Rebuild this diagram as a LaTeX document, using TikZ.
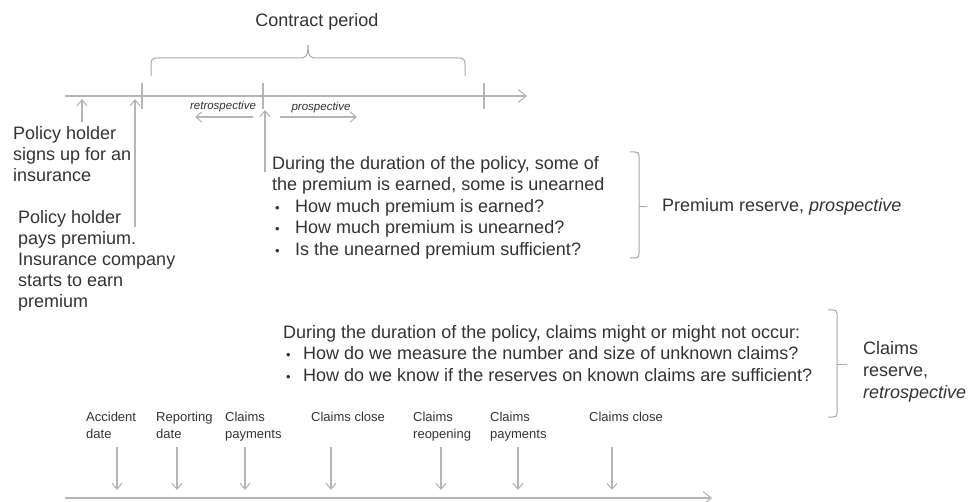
\documentclass[tikz,border=0pt]{standalone}
\usepackage{fontspec}
\setmainfont{Liberation Sans}
\usetikzlibrary{arrows.meta}
\definecolor{linegray}{HTML}{B5B5B5}
\definecolor{bracegray}{HTML}{A8A8A8}
\definecolor{textgray}{HTML}{333333}
\begin{document}
\begin{tikzpicture}[x=1pt,y=-1pt,
  axis/.style={draw=linegray, line width=1.1pt},
  bigarr/.style={axis, -{Straight Barb[length=8pt,width=13pt]}},
  arr/.style={axis, -{Straight Barb[length=6pt,width=10pt]}},
  tick/.style={axis},
  brk/.style={draw=bracegray, line width=1pt},
  txt/.style={text=textgray, inner sep=0pt, font=\fontsize{18}{21}\selectfont, align=left, anchor=north west},
  body/.style={text=textgray, inner sep=0pt, font=\fontsize{18}{21.5}\selectfont, align=left, anchor=north west},
  lbl/.style={text=textgray, inner sep=0pt, font=\fontsize{13}{17}\selectfont, align=left, anchor=north west},
  tiny/.style={text=textgray, inner sep=0pt, font=\fontsize{11.5}{12}\selectfont\itshape},
]
\useasboundingbox (0,0) rectangle (969,502);

% ---------- top timeline ----------
\coordinate (t0) at (65,96);
\coordinate (t1) at (527,96);
\draw[bigarr] (t0) -- (t1);
\coordinate (k1a) at (142,83); \coordinate (k1b) at (142,109);
\coordinate (k2a) at (263,83); \coordinate (k2b) at (263,109);
\coordinate (k3a) at (484,83); \coordinate (k3b) at (484,109);
\draw[tick] (k1a) -- (k1b);
\draw[tick] (k2a) -- (k2b);
\draw[tick] (k3a) -- (k3b);

% contract brace
\node[text=textgray, inner sep=0pt, font=\fontsize{18}{21}\selectfont] (cp) at (317,22) {Contract period};
\draw[brk] (151,76) -- (151,64) .. controls (151,59) and (153,58) .. (158,58) -- (300,58)
  .. controls (306,58) and (308,56) .. (308,45)
  .. controls (308,56) and (310,58) .. (316,58) -- (458,58)
  .. controls (463,58) and (465,59) .. (465,64) -- (465,76);

% retro / prospective
\node[tiny] (retro) at (223,107) {retrospective};
\node[tiny] (pro) at (321,108) {prospective};
\coordinate (ra) at (253,117); \coordinate (rb) at (195,117);
\coordinate (pa) at (280,117); \coordinate (pb) at (357,117);
\draw[arr] (ra) -- (rb);
\draw[arr] (pa) -- (pb);

% up arrows
\coordinate (u1a) at (82,122);  \coordinate (u1b) at (82,99);
\coordinate (u2a) at (135,227); \coordinate (u2b) at (135,99);
\coordinate (u3a) at (265,172); \coordinate (u3b) at (265,110);
\draw[arr] (u1a) -- (u1b);
\draw[arr] (u2a) -- (u2b);
\draw[arr] (u3a) -- (u3b);

% left texts
\node[txt] (signs) at (13,126) {Policy holder\\signs up for an\\insurance};
\node[txt] (pays) at (18,210) {Policy holder\\pays premium.\\Insurance company\\starts to earn\\premium};

% premium block
\node[body] (prem) at (272,156) {During the duration of the policy, some of\\
the premium is earned, some is unearned\\
\makebox[23pt][l]{\hspace{3pt}{\fontsize{13}{13}\selectfont •}}How much premium is earned?\\
\makebox[23pt][l]{\hspace{3pt}{\fontsize{13}{13}\selectfont •}}How much premium is unearned?\\
\makebox[23pt][l]{\hspace{3pt}{\fontsize{13}{13}\selectfont •}}Is the unearned premium sufficient?};
\draw[brk] (630,152) -- (635,152) .. controls (638,152) and (639,153) .. (639,156) -- (639,254)
  .. controls (639,257) and (638,258) .. (635,258) -- (630,258);
\draw[brk] (639,207) -- (647,207);
\node[text=textgray, inner sep=0pt, font=\fontsize{18}{21}\selectfont, anchor=west] (premres) at (662,207) {Premium reserve, \textit{prospective}};

% claims block
\node[body] (claims) at (283,325) {During the duration of the policy, claims might or might not occur:\\
\makebox[20pt][l]{\hspace{3pt}{\fontsize{13}{13}\selectfont •}}How do we measure the number and size of unknown claims?\\
\makebox[20pt][l]{\hspace{3pt}{\fontsize{13}{13}\selectfont •}}How do we know if the reserves on known claims are sufficient?};
\draw[brk] (828,310) -- (833,310) .. controls (836,310) and (837,311) .. (837,314) -- (837,413)
  .. controls (837,416) and (836,417) .. (833,417) -- (828,417);
\draw[brk] (837,365) -- (847,365);
\node[txt, font=\fontsize{18}{22}\selectfont] (clres) at (863,341) {Claims\\reserve,\\\textit{retrospective}};

% ---------- bottom timeline ----------
\coordinate (b0) at (65,498);
\coordinate (b1) at (712,498);
\draw[bigarr] (b0) -- (b1);

\node[lbl] (l1) at (86,412) {Accident\\date};
\node[lbl] (l2) at (156,412) {Reporting\\date};
\node[lbl] (l3) at (225,412) {Claims\\payments};
\node[lbl] (l4) at (311,412) {Claims close};
\node[lbl] (l5) at (413,412) {Claims\\reopening};
\node[lbl] (l6) at (490,412) {Claims\\payments};
\node[lbl] (l7) at (589,412) {Claims close};

\foreach \i/\x in {1/117,2/177,3/245,4/331,5/441,6/518,7/612}{
  \coordinate (d\i a) at (\x,447);
  \coordinate (d\i b) at (\x,490);
  \draw[arr] (d\i a) -- (d\i b);
}
\end{tikzpicture}
\end{document}
